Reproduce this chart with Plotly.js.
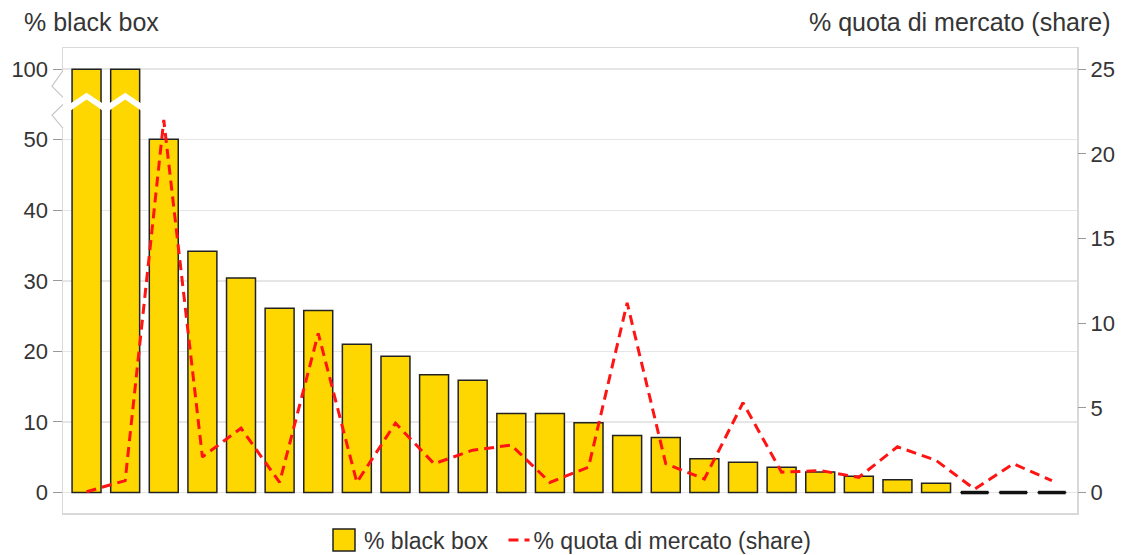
<!DOCTYPE html>
<html><head><meta charset="utf-8">
<script src="https://cdn.plot.ly/plotly-3.0.1.min.js"></script>
<style>html,body{margin:0;padding:0;background:#fff}#chart{width:1121px;height:555px}</style>
</head><body><div id="chart"></div>
<script>
// ---- data ----
const blackBox = [100, 100, 50.4, 34.2, 30.4, 26.1, 25.8, 21.0, 19.3, 16.7, 15.9, 11.2, 11.2, 9.9, 8.1, 7.8, 4.8, 4.3, 3.6, 2.9, 2.3, 1.8, 1.3, 0, 0, 0];
const share = [0.05, 0.7, 22.0, 2.1, 3.8, 0.6, 9.4, 0.6, 4.1, 1.7, 2.5, 2.8, 0.6, 1.5, 11.2, 1.7, 0.8, 5.3, 1.2, 1.3, 0.9, 2.7, 1.9, 0.2, 1.7, 0.7];
const leftTicks = [0, 10, 20, 30, 40, 50, 100];
const rightTicks = [0, 5, 10, 15, 20, 25];
const seriesNames = ['% black box', '% quota di mercato (share)'];
const axisTitles = ['% black box', '% quota di mercato (share)'];

// ---- broken axis mapping (50..100 compressed into one step) ----
const BREAK_LO = 50, BREAK_HI = 100, BREAK_STEP = 10;
const mapY = v => v <= BREAK_LO ? v : BREAK_LO + (v - BREAK_LO) / (BREAK_HI - BREAK_LO) * BREAK_STEP;
const idx = blackBox.map((_, i) => i);
const BAR_W = 0.75;

const barTrace = {
  type: 'bar', x: idx, y: blackBox.map(mapY), name: seriesNames[0],
  width: BAR_W,
  marker: {color: '#FFD700', line: {color: '#222222', width: 1.5}},
  customdata: blackBox, hovertemplate: '%{customdata}<extra></extra>'
};

// zero-valued bars shown as flat black segments
const zx = [], zy = [];
blackBox.forEach((v, i) => { if (v === 0) { zx.push(i - BAR_W / 2 + 0.02, i + BAR_W / 2 - 0.02, null); zy.push(0, 0, null); } });
const zeroTrace = {
  type: 'scatter', mode: 'lines', x: zx, y: zy, showlegend: false, hoverinfo: 'skip',
  line: {color: '#111111', width: 3.5}
};

const lineTrace = {
  type: 'scatter', mode: 'lines', x: idx, y: share, yaxis: 'y2', name: seriesNames[1],
  line: {color: '#FF1414', width: 3, dash: '10px,6px'}
};

// ---- break decorations ----
const shapes = [];
const breakTop = mapY(BREAK_HI);
blackBox.forEach((v, i) => {
  if (mapY(v) > (BREAK_LO + breakTop) / 2) {
    const xL = i - 0.42, xR = i + 0.42;
    shapes.push({type: 'path', xref: 'x', yref: 'y', layer: 'above',
      path: `M ${xL},54.1 L ${i},55.7 L ${xR},54.1 L ${xR},55.15 L ${i},56.65 L ${xL},55.15 Z`,
      fillcolor: '#ffffff', line: {width: 0}});
  }
});
// hide axis line across the break, then draw zigzag
shapes.push({type: 'path', xref: 'paper', xsizemode: 'pixel', xanchor: 0, yref: 'y', layer: 'above',
  path: 'M 0,59.6 L 0,51.6', line: {color: '#ffffff', width: 3}});
shapes.push({type: 'path', xref: 'paper', xsizemode: 'pixel', xanchor: 0, yref: 'y', layer: 'above',
  path: 'M 0,59.8 L -11,57.6 L 0,56.0 M 0,55.0 L -11,53.5 L 0,51.6', line: {color: '#c8c8c8', width: 1.2}});

const font = 'Liberation Sans, Arial, sans-serif';
const txt = '#353535';

const layout = {
  width: 1121, height: 555,
  margin: {l: 63, r: 44, t: 48, b: 42, autoexpand: false},
  paper_bgcolor: '#ffffff', plot_bgcolor: '#ffffff',
  font: {family: font, color: txt, size: 22},
  showlegend: true,
  legend: {orientation: 'h', x: 0.5, xanchor: 'center', y: -0.058, yanchor: 'middle',
    font: {size: 23, color: txt}, traceorder: 'normal', itemwidth: 30},
  bargap: 0.25,
  xaxis: {range: [-0.61, 25.65], showticklabels: false, ticks: '', showgrid: false, zeroline: false,
    showline: true, mirror: true, linecolor: '#d9d9d9', linewidth: 1.5},
  yaxis: {range: [-2.9, 63], tickvals: leftTicks.map(mapY), ticktext: leftTicks.map(String),
    ticks: 'outside', ticklen: 9, tickcolor: '#9a9a9a', tickwidth: 1,
    showgrid: true, gridcolor: '#e6e6e6', gridwidth: 1.5, zeroline: false,
    showline: true, mirror: true, linecolor: '#d9d9d9', linewidth: 1.5,
    tickfont: {size: 22, color: txt}},
  yaxis2: {range: [-2.9 / 2.4, 63 / 2.4], overlaying: 'y', side: 'right', tickvals: rightTicks,
    ticktext: rightTicks.map(String),
    ticks: 'outside', ticklen: 8, tickcolor: '#9a9a9a', showgrid: false, zeroline: false, showline: false,
    tickfont: {size: 22, color: txt}},
  annotations: [
    {text: axisTitles[0], xref: 'paper', yref: 'paper', x: 0, xanchor: 'left', xshift: -41,
     y: 1.056, yanchor: 'middle', showarrow: false, font: {size: 25, color: txt}},
    {text: axisTitles[1], xref: 'paper', yref: 'paper', x: 1, xanchor: 'right', xshift: 36,
     y: 1.056, yanchor: 'middle', showarrow: false, font: {size: 25, color: txt}}
  ],
  shapes: shapes
};

Plotly.newPlot('chart', [barTrace, zeroTrace, lineTrace], layout, {displayModeBar: false, staticPlot: true})
  .then(gd => {
    // legend swatches sized like the reference
    gd.querySelectorAll('.legend .legendpoints path').forEach(p => {
      const d = p.getAttribute('d') || '';
      if (/^M6,6H-6V-6H6Z$/.test(d)) p.setAttribute('d', 'M11,11H-11V-11H11Z');
    });
    gd.querySelectorAll('.legend .legendlines path').forEach(p => {
      p.setAttribute('d', 'M15,0h21');
    });
  });
</script>
</body></html>
